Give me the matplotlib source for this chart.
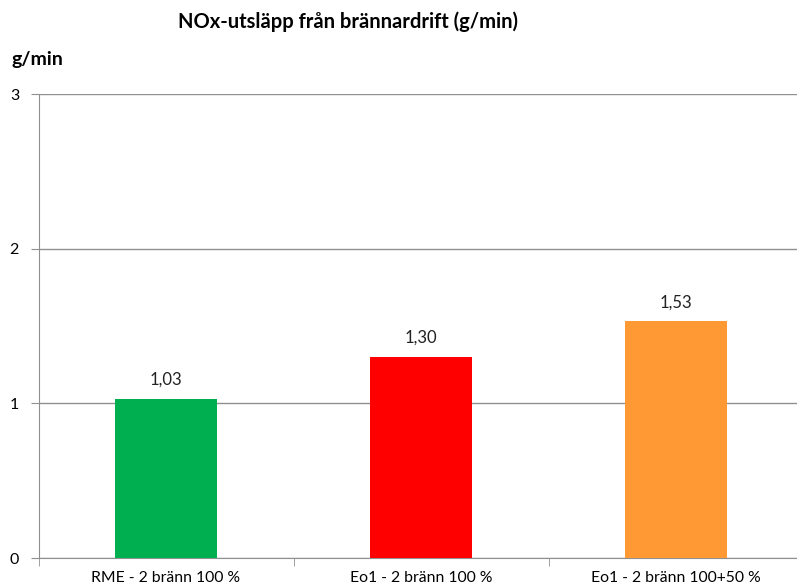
import matplotlib
matplotlib.use("Agg")
import matplotlib.pyplot as plt
from matplotlib.ticker import FixedLocator

categories = ["RME - 2 bränn 100 %", "Eo1 - 2 bränn 100 %", "Eo1 - 2 bränn 100+50 %"]
values = [1.03, 1.30, 1.53]
value_labels = ["1,03", "1,30", "1,53"]
colors = ["#00B050", "#FF0000", "#FF9933"]
yticks = [0, 1, 2, 3]

plt.rcParams["font.family"] = ["Lato", "DejaVu Sans"]

fig = plt.figure(figsize=(7.97, 5.87), dpi=100)
ax = fig.add_axes([38.5 / 797, 29 / 587, 765 / 797, 464 / 587])

x = list(range(len(categories)))
ax.bar(x, values, width=0.4, color=colors, zorder=3)
for xi, v, lab in zip(x, values, value_labels):
    ax.text(xi, v + 0.07, lab, ha="center", va="bottom", fontsize=12, color="#222222")

ax.set_xlim(-0.5, 2.5)
ax.set_ylim(0, 3)
ax.set_yticks(yticks)
ax.set_yticklabels([str(t) for t in yticks], fontsize=11.5)
ax.yaxis.grid(True, color="#909090", linewidth=1.0, zorder=0)

ax.set_xticks(x)
ax.set_xticklabels(categories, fontsize=11.3)
ax.tick_params(axis="x", length=0, pad=9)
ax.xaxis.set_minor_locator(FixedLocator([-0.5, 0.5, 1.5, 2.5]))
ax.tick_params(axis="x", which="minor", length=6, color="#909090")
ax.tick_params(axis="y", length=6, color="#909090", pad=8)

for side in ["top", "right"]:
    ax.spines[side].set_visible(False)
ax.spines["left"].set_color("#909090")
ax.spines["bottom"].set_color("#909090")

fig.text(348 / 797, 1 - 22 / 587, "NOx-utsläpp från brännardrift (g/min)",
         ha="center", va="center", fontsize=14.5, fontweight="bold")
fig.text(11 / 797, 1 - 60 / 587, "g/min", ha="left", va="center",
         fontsize=14, fontweight="bold")

fig.savefig("out.png", dpi=100)
